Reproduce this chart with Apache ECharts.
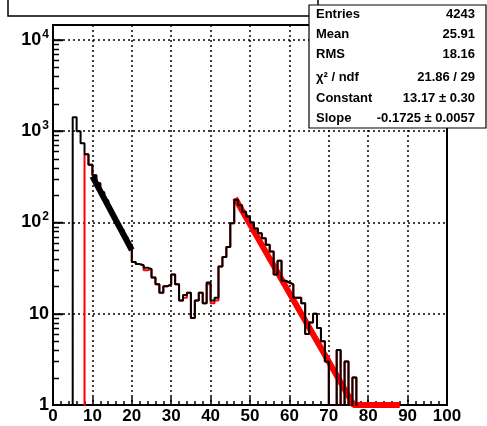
<!DOCTYPE html>
<html>
<head>
<meta charset="utf-8">
<script src="https://cdn.jsdelivr.net/npm/echarts@6/dist/echarts.min.js"></script>
<style>
html, body { margin: 0; padding: 0; background: #fff; }
#chart { width: 487px; height: 426px; }
</style>
</head>
<body>
<div id="chart"></div>
<script>
// black histogram, 1-unit bins starting at x = 5
const firstEdge = 5;
const counts = [
  1420, 1000, 740, 560, 430,                        // 5-9
  330, 270, 215, 175, 140, 115, 95, 82, 68, 57,     // 10-19
  37, 35, 34, 32, 31, 25, 21, 17, 20, 21,           // 20-29
  27, 21, 14, 16, 17, 9, 14, 17, 13, 22,            // 30-39
  14, 15, 33, 42, 54, 98, 176, 155, 131, 116,       // 40-49
  100, 86, 76, 67, 57, 48, 27, 38, 23, 22,          // 50-59
  21, 15, 15, 13, 6, 8, 10, 7, 5, 3,                // 60-69
  0, 0, 4, 0, 3, 0, 2, 0                            // 70-77
];

// red histogram, starts at x = 8
const redFirstEdge = 8;
const redCounts = [
  560, 430,
  330, 270, 215, 175, 140, 115, 95, 82, 68, 57,
  37, 35, 34, 30, 31, 25, 21, 17, 20, 21,
  27, 21, 14, 15, 17, 9, 14, 17, 13, 21,
  13, 14, 33, 42, 54, 98, 180, 155, 131, 116,
  100, 86, 76, 67, 57, 48, 27, 38, 23, 22,
  21, 15, 15, 13, 6, 8, 10, 7, 5, 3,
  0, 0, 4, 0, 3, 0, 2, 0
];

// fitted lines, end points
const fitLow = [[10, 320], [20, 50]];
const fitHigh = [[46.2, 184], [76.3, 1], [88, 1]];

// ticks of the log axis
const yMajorTicks = [10, 100, 1000, 10000];
const yMinorTicks = [
  2, 3, 4, 5, 6, 7, 8, 9,
  20, 30, 40, 50, 60, 70, 80, 90,
  200, 300, 400, 500, 600, 700, 800, 900,
  2000, 3000, 4000, 5000, 6000, 7000, 8000, 9000
];

const statLabels = ['Entries', 'Mean', 'RMS', 'χ² / ndf', 'Constant', 'Slope'];
const statValues = ['4243', '25.91', '18.16', '21.86 / 29', '13.17 ± 0.30', '-0.1725 ± 0.0057'];
const statRowsY = [14, 34, 54, 77, 98, 118];

const FONT = '"Liberation Sans", Arial, Helvetica, sans-serif';
const GRID = { left: 53, right: 40, top: 25, bottom: 21 };
const Y_MAX = 14600;

// outline of a histogram as step points (zero bins dropped below the axis)
function steps(lo, vals) {
  const floor = 0.01;
  const pts = [[lo, floor]];
  vals.forEach(function (v, i) {
    const y = v > 0 ? v : floor;
    pts.push([lo + i, y], [lo + i + 1, y]);
  });
  pts.push([lo + vals.length, floor]);
  return pts;
}

const chart = echarts.init(document.getElementById('chart'));

const graphics = [
  // title pave (mostly above the canvas)
  { type: 'rect', z: 100, shape: { x: 8, y: -20, width: 310, height: 36 },
    style: { fill: '#fff', stroke: '#000', lineWidth: 1.5 } },
  // stats box
  { type: 'rect', z: 101, shape: { x: 309, y: 5, width: 177, height: 123 },
    style: { fill: '#fff', stroke: '#000', lineWidth: 1.2 } }
];
statLabels.forEach(function (t, i) {
  graphics.push({ type: 'text', z: 102, x: 316, y: statRowsY[i],
    style: { text: t, font: 'bold 13px ' + FONT, fill: '#000', verticalAlign: 'middle', align: 'left' } });
  graphics.push({ type: 'text', z: 102, x: 475, y: statRowsY[i],
    style: { text: statValues[i], font: 'bold 13px ' + FONT, fill: '#000', verticalAlign: 'middle', align: 'right' } });
});

const option = {
  animation: false,
  grid: Object.assign({ show: true, borderColor: '#000', borderWidth: 2 }, GRID),
  xAxis: {
    type: 'value', min: 0, max: 100, interval: 10,
    axisLine: { show: true, onZero: false, lineStyle: { color: '#000', width: 2 } },
    axisTick: { show: true, inside: true, length: 8, lineStyle: { color: '#000', width: 1.5 } },
    minorTick: { show: true, splitNumber: 5, length: 4, lineStyle: { color: '#000', width: 1.5 } },
    splitLine: { show: true, lineStyle: { color: '#000', type: [2, 3], width: 1.5 } },
    axisLabel: { color: '#000', fontFamily: FONT, fontWeight: 'bold', fontSize: 17, margin: 3 }
  },
  yAxis: {
    type: 'log', logBase: 10, min: 1, max: Y_MAX,
    axisLine: { show: true, onZero: false, lineStyle: { color: '#000', width: 2 } },
    axisTick: { show: true, inside: true, length: 10, lineStyle: { color: '#000', width: 1.5 } },
    splitLine: { show: true, lineStyle: { color: '#000', type: [2, 3], width: 1.5 } },
    axisLabel: {
      color: '#000', margin: 4, showMaxLabel: false,
      formatter: function (v) {
        const l = Math.log10(v);
        const e = Math.round(l);
        if (Math.abs(l - e) > 1e-6) return '';
        if (e === 0) return '{b|1}';
        if (e === 1) return '{b|10}';
        return '{b|10}{e|' + e + '}';
      },
      rich: {
        b: { fontFamily: FONT, fontWeight: 'bold', fontSize: 18, color: '#000' },
        e: { fontFamily: FONT, fontWeight: 'bold', fontSize: 12, color: '#000', padding: [0, 0, 11, 1] }
      }
    }
  },
  series: [
    { type: 'line', z: 2, data: steps(redFirstEdge, redCounts), symbol: 'none',
      lineStyle: { color: '#ff0000', width: 2 } },
    { type: 'line', z: 3, data: fitHigh, symbol: 'none', clip: false,
      lineStyle: { color: '#ff0000', width: 6 } },
    { type: 'line', z: 4, data: steps(firstEdge, counts), symbol: 'none',
      lineStyle: { color: '#000', width: 2 } },
    { type: 'line', z: 5, data: fitLow, symbol: 'none',
      lineStyle: { color: '#000', width: 6 } }
  ]
};

chart.setOption(option);

// y position of a value on the log axis; falls back to the grid's log mapping
function yPixel(v) {
  let y = chart.convertToPixel({ yAxisIndex: 0 }, v);
  if (Array.isArray(y)) y = y[1];
  if (typeof y !== 'number' || !isFinite(y)) {
    const bottom = 426 - GRID.bottom;
    const h = 426 - GRID.top - GRID.bottom;
    y = bottom - Math.log10(v) / Math.log10(Y_MAX) * h;
  }
  return y;
}

// inward ticks on the log axis, drawn on top of everything in the plot
function addTicks(vals, len) {
  vals.forEach(function (v) {
    const y = Math.round(yPixel(v)) + 0.5;
    graphics.push({ type: 'line', z: 50, silent: true,
      shape: { x1: GRID.left, y1: y, x2: GRID.left + len, y2: y },
      style: { stroke: '#000', lineWidth: 1.5 } });
  });
}
addTicks(yMinorTicks, 6);
addTicks(yMajorTicks, 10);

chart.setOption({ graphic: graphics });
</script>
</body>
</html>
